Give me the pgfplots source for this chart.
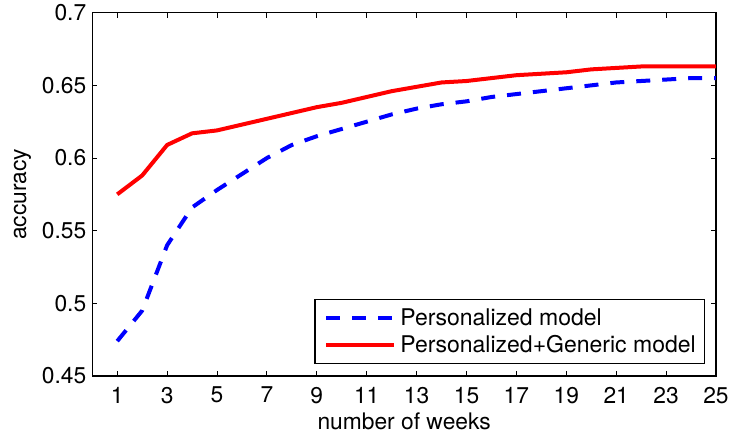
\documentclass[border=0pt]{standalone}
\usepackage{fontspec}
\setmainfont{TeX Gyre Heros}
\usepackage{pgfplots}
\pgfplotsset{compat=1.18}
\begin{document}
\begin{tikzpicture}[font=\fontsize{11.4}{13.7}\selectfont]
\begin{axis}[
  at={(0pt,0pt)}, anchor=south west,
  scale only axis,
  width=311.85pt, height=181.65pt,
  xmin=0, xmax=25, ymin=0.45, ymax=0.7,
  xtick={1,3,5,7,9,11,13,15,17,19,21,23,25},
  ytick={0.45,0.5,0.55,0.6,0.65,0.7},
  yticklabels={0.45,0.5,0.55,0.6,0.65,0.7},
  tick align=inside,
  major tick length=2.5pt,
  tick style={black, line width=0.5pt},
  axis line style={line width=0.6pt},
  /pgf/number format/assume math mode=true,
  xticklabel style={yshift=-2pt},
  yticklabel style={xshift=0.5pt},
  xlabel={number of weeks},
  ylabel={accuracy},
  xlabel style={at={(axis description cs:0.5,-0.1486)}, anchor=base},
  ylabel style={at={(axis description cs:-0.1063,0.5)}, anchor=base},
  legend style={at={(rel axis cs:0.982,0.033)}, anchor=south east,
    draw=black, line width=0.6pt, inner xsep=2.2pt, inner ysep=2.5pt,
    font=\fontsize{11.5}{14}\selectfont,
    nodes={inner xsep=2pt, inner ysep=1.2pt, text height=9.2pt, text depth=1.9pt},
    row sep=0pt},
  legend cell align=left,
  legend image code/.code={\path (-2.5pt,0pt); \draw[#1] (0pt,0pt) -- (34pt,0pt);},
  /tikz/every even column/.append style={column sep=0pt},
]
\addplot[blue, line width=2pt, dash pattern=on 7pt off 6pt] coordinates {
(1,0.474) (2,0.495) (3,0.540) (4,0.566) (5,0.578) (6,0.589) (7,0.600)
(8,0.609) (9,0.615) (10,0.620) (11,0.625) (12,0.630) (13,0.634) (14,0.637)
(15,0.639) (16,0.642) (17,0.644) (18,0.646) (19,0.648) (20,0.650)
(21,0.652) (22,0.653) (23,0.654) (24,0.655) (25,0.655)};
\addlegendentry{Personalized model}
\addplot[red, line width=2pt] coordinates {
(1,0.575) (2,0.588) (3,0.609) (4,0.617) (5,0.619) (6,0.623) (7,0.627)
(8,0.631) (9,0.635) (10,0.638) (11,0.642) (12,0.646) (13,0.649) (14,0.652)
(15,0.653) (16,0.655) (17,0.657) (18,0.658) (19,0.659) (20,0.661)
(21,0.662) (22,0.663) (23,0.663) (24,0.663) (25,0.663)};
\addlegendentry{Personalized+Generic model}
\end{axis}
\pgfresetboundingbox
\path[use as bounding box] (-46.15pt,-30pt) rectangle (318.85pt,188pt);
\end{tikzpicture}
\end{document}
